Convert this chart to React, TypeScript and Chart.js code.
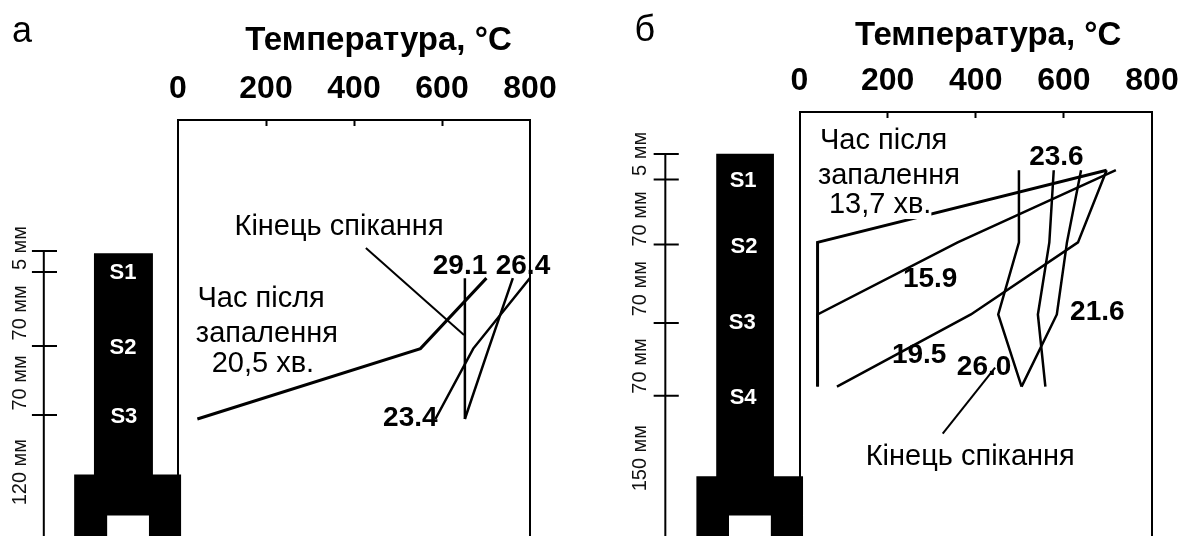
import React, { useEffect, useRef } from "react";
import { Chart, registerables } from "chart.js";

Chart.register(...registerables);

const TEMP_TICKS = [0, 200, 400, 600, 800];

// Panel a
const LEVELS_A = [11, 80, 149];
const T_20_5 = [701, 551, 44];
const T_23_4 = [800, 671, 585];
const T_26_4 = [761, 706, 652];
const T_29_1 = [652, 652, 652];
const LEADER_A_X = [427, 650];
const LEADER_A_Y = [-18.6, 66.7];

// Panel b
const LEVELS_B = [-4, 66, 136, 206];
const T_13_7 = [697, 41, 41, 41];
const T_15_9 = [718, 359, 41, 41];
const T_19_5 = [697, 632, 389, 85];
const T_21_6 = [639, 607, 584, 504];
const T_23_6 = [577, 567, 541, 558];
const T_26_0 = [498, 498, 451, 504];
const LEADER_B_X = [325, 444];
const LEADER_B_Y = [251.6, 187.5];

type Label = { t: string; x: number; y: number; kind: string; bg?: boolean };

const LABELS_A: Label[] = [
  { t: "а", x: -354.5, y: -230, kind: "letter" },
  { t: "Температура, °C", x: 455.7, y: -221.6, kind: "title" },
  { t: "Кінець спікання", x: 366, y: -39, kind: "note", bg: true },
  { t: "Час після", x: 189, y: 31.5, kind: "note" },
  { t: "запалення", x: 202, y: 65.8, kind: "note" },
  { t: "20,5 хв.", x: 193, y: 95, kind: "note" },
  { t: "29.1", x: 641, y: -1, kind: "num" },
  { t: "26.4", x: 784, y: -1, kind: "num" },
  { t: "23.4", x: 528, y: 148, kind: "num" },
  { t: "S1", x: -125, y: 6, kind: "stage" },
  { t: "S2", x: -125, y: 79.5, kind: "stage" },
  { t: "S3", x: -123, y: 147, kind: "stage" },
  { t: "5 мм", x: -359, y: -18.5, kind: "ruler" },
  { t: "70 мм", x: -359, y: 45, kind: "ruler" },
  { t: "70 мм", x: -359, y: 113.7, kind: "ruler" },
  { t: "120 мм", x: -359, y: 201, kind: "ruler" },
];

const LABELS_B: Label[] = [
  { t: "б", x: -351, y: -139, kind: "letter" },
  { t: "Температура, °C", x: 428, y: -134, kind: "title" },
  { t: "Час після", x: 191, y: -32.8, kind: "note" },
  { t: "запалення", x: 203, y: 1.7, kind: "note" },
  { t: "13,7 хв.", x: 183, y: 29.8, kind: "note", bg: true },
  { t: "Кінець спікання", x: 387.5, y: 274.5, kind: "note" },
  { t: "23.6", x: 583, y: -16.2, kind: "num" },
  { t: "15.9", x: 296.6, y: 101.7, kind: "num" },
  { t: "21.6", x: 676, y: 133.7, kind: "num" },
  { t: "19.5", x: 271.6, y: 175.4, kind: "num" },
  { t: "26.0", x: 419, y: 187, kind: "num" },
  { t: "S1", x: -128, y: 6.5, kind: "stage" },
  { t: "S2", x: -126, y: 70.6, kind: "stage" },
  { t: "S3", x: -130, y: 144, kind: "stage" },
  { t: "S4", x: -128, y: 217, kind: "stage" },
  { t: "5 мм", x: -360, y: -19.8, kind: "ruler" },
  { t: "70 мм", x: -360, y: 43.3, kind: "ruler" },
  { t: "70 мм", x: -360, y: 111, kind: "ruler" },
  { t: "70 мм", x: -360, y: 186, kind: "ruler" },
  { t: "150 мм", x: -360, y: 275.4, kind: "ruler" },
];

const FURNACE_A_X = [-191, -57, 7, -66, -161, -236];
const FURNACE_A_Y = [-13.3, 203.3, 243.5, 264];
const FURNACE_B_X = [-189, -58, 8, -65, -160, -234];
const FURNACE_B_Y = [-20, 292.9, 331.2, 352];

const RULER_A = { x: -305, tickL: -332, tickR: -275, top: -15.6, bottom: 264, ticks: [-15.6, 5, 77.5, 145] };
const RULER_B = { x: -304.5, tickL: -331, tickR: -274, top: -19.8, bottom: 352, ticks: [-19.8, 5, 68, 144.3, 214.8] };

const FONT = '"Liberation Sans", Arial, sans-serif';
const STYLES: Record<string, { font: string; color: string }> = {
  letter: { font: `36px ${FONT}`, color: "#000" },
  title: { font: `bold 33px ${FONT}`, color: "#000" },
  note: { font: `29px ${FONT}`, color: "#000" },
  num: { font: `bold 28px ${FONT}`, color: "#000" },
  stage: { font: `bold 22px ${FONT}`, color: "#fff" },
  ruler: { font: `20px ${FONT}`, color: "#111" },
};

const pts = (xs: number[], ys: number[]) => xs.map((x, i) => ({ x, y: ys[i] }));
const curve = (label: string, xs: number[], ys: number[], width = 2.5) => ({
  label,
  data: pts(xs, ys),
  showLine: true,
  borderColor: "#000",
  borderWidth: width,
  pointRadius: 0,
  tension: 0,
  fill: false,
});

const schematic = (fx: number[], fy: number[], ruler: any, labels: Label[]) => ({
  id: "schematic",
  beforeDatasetsDraw(chart: any) {
    const { ctx, scales } = chart;
    const X = (v: number) => scales.x.getPixelForValue(v);
    const Y = (v: number) => scales.y.getPixelForValue(v);
    const [colL, colR, wideR, holeR, holeL, wideL] = fx;
    const [top, shoulder, holeTop, bottom] = fy;
    ctx.save();
    ctx.fillStyle = "#000";
    ctx.beginPath();
    ctx.moveTo(X(colL), Y(top));
    ctx.lineTo(X(colR), Y(top));
    ctx.lineTo(X(colR), Y(shoulder));
    ctx.lineTo(X(wideR), Y(shoulder));
    ctx.lineTo(X(wideR), Y(bottom));
    ctx.lineTo(X(holeR), Y(bottom));
    ctx.lineTo(X(holeR), Y(holeTop));
    ctx.lineTo(X(holeL), Y(holeTop));
    ctx.lineTo(X(holeL), Y(bottom));
    ctx.lineTo(X(wideL), Y(bottom));
    ctx.lineTo(X(wideL), Y(shoulder));
    ctx.lineTo(X(colL), Y(shoulder));
    ctx.closePath();
    ctx.fill();
    ctx.strokeStyle = "#000";
    ctx.lineWidth = 2;
    ctx.beginPath();
    ctx.moveTo(X(ruler.x), Y(ruler.top));
    ctx.lineTo(X(ruler.x), Y(ruler.bottom));
    ruler.ticks.forEach((t: number) => {
      ctx.moveTo(X(ruler.tickL), Y(t));
      ctx.lineTo(X(ruler.tickR), Y(t));
    });
    ctx.stroke();
    ctx.restore();
  },
  afterDatasetsDraw(chart: any) {
    const { ctx, scales } = chart;
    ctx.save();
    ctx.textAlign = "center";
    ctx.textBaseline = "middle";
    labels.forEach((l) => {
      const px = scales.x.getPixelForValue(l.x);
      const py = scales.y.getPixelForValue(l.y);
      const s = STYLES[l.kind];
      ctx.font = s.font;
      if (l.bg) {
        const w = ctx.measureText(l.t).width;
        ctx.fillStyle = "#fff";
        ctx.fillRect(px - w / 2 - 2, py - 14, w + 2, 28);
      }
      ctx.fillStyle = s.color;
      if (l.kind === "ruler") {
        ctx.save();
        ctx.translate(px, py);
        ctx.rotate(-Math.PI / 2);
        ctx.fillText(l.t, 0, 0);
        ctx.restore();
      } else {
        ctx.fillText(l.t, px, py);
      }
    });
    ctx.restore();
  },
});

const makeOptions = (
  top: number,
  left: number,
  right: number,
  yMin: number,
  yMax: number
): any => ({
  responsive: false,
  animation: false,
  layout: { padding: { left, right, top: 0, bottom: 0 } },
  plugins: { legend: { display: false }, tooltip: { enabled: false }, title: { display: false } },
  scales: {
    x: {
      type: "linear",
      position: "top",
      min: 0,
      max: 800,
      afterBuildTicks: (s: any) => {
        s.ticks = TEMP_TICKS.map((value) => ({ value }));
      },
      afterFit: (s: any) => {
        s.height = top;
      },
      border: { display: true, color: "#000", width: 2 },
      grid: {
        drawOnChartArea: false,
        drawTicks: true,
        tickLength: -6,
        tickWidth: 2,
        tickColor: (c: any) =>
          c.tick && (c.tick.value === 0 || c.tick.value === 800) ? "rgba(0,0,0,0)" : "#000",
      },
      ticks: {
        autoSkip: false,
        maxRotation: 0,
        minRotation: 0,
        padding: 18,
        color: "#000",
        font: { family: "Liberation Sans", size: 32, weight: "bold" },
      },
    },
    y: {
      type: "linear",
      reverse: true,
      min: yMin,
      max: yMax,
      afterFit: (s: any) => {
        s.width = 0;
      },
      border: { display: true, color: "#000", width: 2 },
      grid: { display: false },
      ticks: { display: false },
    },
    yRight: {
      type: "linear",
      position: "right",
      reverse: true,
      min: yMin,
      max: yMax,
      afterFit: (s: any) => {
        s.width = 0;
      },
      border: { display: true, color: "#000", width: 2 },
      grid: { display: false },
      ticks: { display: false },
    },
  },
});

export default function App() {
  const refA = useRef<HTMLCanvasElement>(null);
  const refB = useRef<HTMLCanvasElement>(null);

  useEffect(() => {
    const a = new Chart(refA.current as HTMLCanvasElement, {
      type: "scatter",
      data: {
        datasets: [
          curve("20,5", T_20_5, LEVELS_A, 3),
          curve("23.4", T_23_4, LEVELS_A),
          curve("26.4", T_26_4, LEVELS_A),
          curve("29.1", T_29_1, LEVELS_A),
          curve("Кінець спікання", LEADER_A_X, LEADER_A_Y, 2),
        ],
      },
      options: makeOptions(120, 178, 60, -143.9, 263.6),
      plugins: [schematic(FURNACE_A_X, FURNACE_A_Y, RULER_A, LABELS_A)],
    } as any);
    const b = new Chart(refB.current as HTMLCanvasElement, {
      type: "scatter",
      data: {
        datasets: [
          curve("13,7", T_13_7, LEVELS_B, 3),
          curve("15.9", T_15_9, LEVELS_B),
          curve("19.5", T_19_5, LEVELS_B),
          curve("21.6", T_21_6, LEVELS_B),
          curve("23.6", T_23_6, LEVELS_B),
          curve("26.0", T_26_0, LEVELS_B),
          curve("Кінець спікання", LEADER_B_X, LEADER_B_Y, 2),
        ],
      },
      options: makeOptions(112, 209.5, 78, -60.5, 351),
      plugins: [schematic(FURNACE_B_X, FURNACE_B_Y, RULER_B, LABELS_B)],
    } as any);
    return () => {
      a.destroy();
      b.destroy();
    };
  }, []);

  return (
    <div style={{ position: "fixed", left: 0, top: 0, width: 1179, height: 536, background: "#fff", overflow: "hidden" }}>
      <canvas ref={refA} width={590} height={536} style={{ position: "absolute", left: 0, top: 0, display: "block" }} />
      <canvas ref={refB} width={640} height={536} style={{ position: "absolute", left: 590, top: 0, display: "block" }} />
    </div>
  );
}
